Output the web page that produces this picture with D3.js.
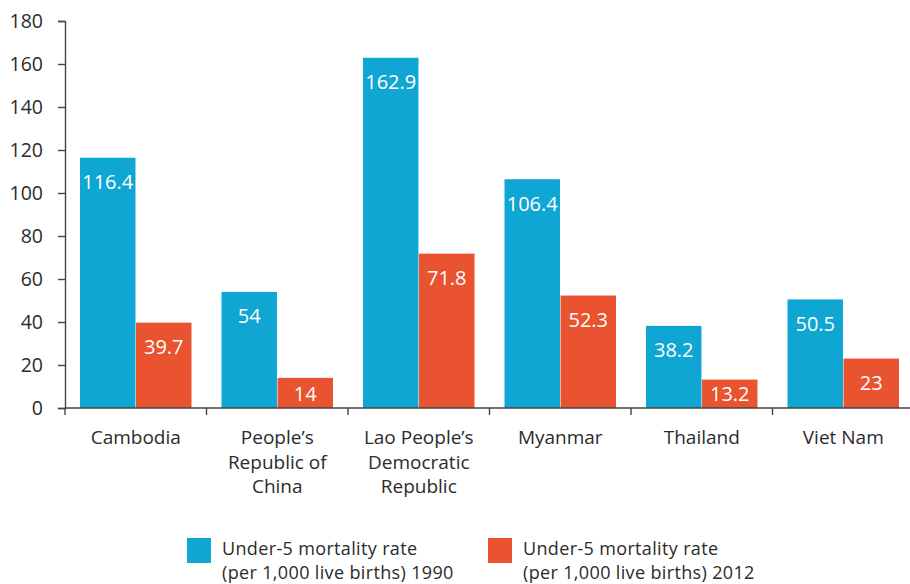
<!DOCTYPE html>
<html lang="en">
  <head>
    <meta charset="utf-8">
    <title>Under-5 mortality rate</title>
    <script src="https://d3js.org/d3.v7.min.js"></script>
    <style>
      body { margin: 0; background: #fff; }
      text { font-family: "Open Sans", sans-serif; fill: #2b2b2b; }
    </style>
  </head>
  <body>
    <script type="text/javascript">
    // data
    var countries = [
      ["Cambodia"],
      ["People\u2019s", "Republic of", "China"],
      ["Lao People\u2019s", "Democratic", "Republic"],
      ["Myanmar"],
      ["Thailand"],
      ["Viet Nam"]
    ];
    var rate1990 = [116.4, 54, 162.9, 106.4, 38.2, 50.5];
    var rate2012 = [39.7, 14, 71.8, 52.3, 13.2, 23];
    var seriesNames = [
      ["Under-5 mortality rate", "(per 1,000 live births) 1990"],
      ["Under-5 mortality rate", "(per 1,000 live births) 2012"]
    ];
    var yTicks = [0, 20, 40, 60, 80, 100, 120, 140, 160, 180];
    var colors = ["#10a6d3", "#e9532f"];

    var width = 910, height = 584;
    var plotLeft = 65, plotRight = 914, plotTop = 21, plotBottom = 408;

    var svg = d3.select("body").append("svg")
      .attr("width", width)
      .attr("height", height);

    var keys = countries.map(function(d, i) { return "c" + i; });

    var x = d3.scaleBand().domain(keys).range([plotLeft, plotRight]).paddingInner(0).paddingOuter(0);
    var inner = d3.scaleBand().domain([0, 1]).range([15, x.bandwidth() - 15]).paddingInner(0.01);
    var y = d3.scaleLinear().domain([0, 180]).range([plotBottom, plotTop]);

    // y axis
    var yAxis = svg.append("g")
      .attr("transform", "translate(" + plotLeft + ",0)")
      .call(d3.axisLeft(y).tickValues(yTicks).tickSize(7).tickPadding(15));
    yAxis.select(".domain").attr("stroke", "#444").attr("stroke-width", 1.4);
    yAxis.selectAll(".tick line").attr("stroke", "#444").attr("stroke-width", 1.4);
    yAxis.selectAll(".tick text")
      .style("font-family", "Open Sans, sans-serif")
      .style("font-size", "19.5px")
      .attr("fill", "#2b2b2b");

    // bars
    var series = [rate1990, rate2012];
    series.forEach(function(vals, s) {
      var g = svg.append("g");
      g.selectAll("rect").data(vals).enter().append("rect")
        .attr("x", function(d, i) { return x(keys[i]) + inner(s); })
        .attr("y", function(d) { return y(d); })
        .attr("width", inner.bandwidth())
        .attr("height", function(d) { return y(0) - y(d); })
        .attr("fill", colors[s]);
      g.selectAll("text").data(vals).enter().append("text")
        .attr("x", function(d, i) { return x(keys[i]) + inner(s) + inner.bandwidth() / 2; })
        .attr("y", function(d) { return Math.min(y(d) + 31.5, y(0) - 7); })
        .attr("text-anchor", "middle")
        .style("font-size", "20px")
        .style("fill", "#fff")
        .text(function(d) { return d; });
    });

    // x axis, ticks at band edges
    svg.append("line")
      .attr("x1", plotLeft).attr("x2", width)
      .attr("y1", plotBottom).attr("y2", plotBottom)
      .attr("stroke", "#444").attr("stroke-width", 1.6);
    var edges = keys.map(function(k) { return x(k); });
    svg.selectAll(".xtick").data(edges).enter().append("line")
      .attr("class", "xtick")
      .attr("x1", function(d) { return d; }).attr("x2", function(d) { return d; })
      .attr("y1", plotBottom).attr("y2", plotBottom + 7)
      .attr("stroke", "#444").attr("stroke-width", 1.4);

    var labels = svg.selectAll(".xlab").data(countries).enter().append("text")
      .attr("class", "xlab")
      .attr("text-anchor", "middle")
      .attr("transform", function(d, i) { return "translate(" + (x(keys[i]) + x.bandwidth() / 2) + ",444)"; })
      .style("font-size", "19px");
    labels.selectAll("tspan").data(function(d) { return d; }).enter().append("tspan")
      .attr("x", 0)
      .attr("y", function(d, i) { return i * 24.5; })
      .text(function(d) { return d; });

    // legend
    var legendX = [187, 488];
    seriesNames.forEach(function(lines, s) {
      var lg = svg.append("g").attr("transform", "translate(" + legendX[s] + ",538)");
      lg.append("rect").attr("width", 24).attr("height", 25).attr("fill", colors[s]);
      var t = lg.append("text").style("font-size", "18px").style("letter-spacing", "0.35px");
      t.selectAll("tspan").data(lines).enter().append("tspan")
        .attr("x", 35)
        .attr("y", function(d, i) { return 17 + i * 23.5; })
        .text(function(d) { return d; });
    });
    </script>
  </body>
</html>
